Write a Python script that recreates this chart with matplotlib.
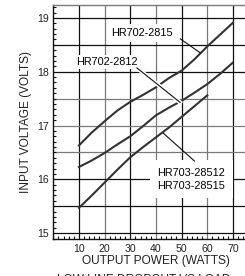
import matplotlib
matplotlib.use("Agg")
import matplotlib.pyplot as plt
import matplotlib.patheffects as pe
from matplotlib.ticker import MultipleLocator

plt.rcParams['font.family'] = ['Liberation Sans', 'DejaVu Sans']

# Data
power_702 = [10, 15, 20, 25, 30, 35, 40, 45, 50, 55, 60, 65, 70]
hr702_2815 = [16.63, 16.87, 17.08, 17.28, 17.44, 17.57, 17.71, 17.88, 18.02, 18.23, 18.47, 18.69, 18.91]
hr702_2812 = [16.23, 16.35, 16.49, 16.65, 16.80, 16.99, 17.19, 17.33, 17.46, 17.61, 17.77, 17.96, 18.17]
power_703 = [10, 15, 20, 25, 30, 35, 40, 45, 50, 55, 60]
hr703 = [15.47, 15.70, 15.94, 16.18, 16.41, 16.60, 16.78, 16.96, 17.16, 17.36, 17.56]

x_ticks = [10, 20, 30, 40, 50, 60, 70]
y_ticks = [15, 16, 17, 18, 19]

fig = plt.figure(figsize=(2.45, 2.76), dpi=100)
ax = fig.add_axes([53.3/245, 1-238.5/276, (258.6-53.3)/245, (238.5-5)/276])
ax.set_xlim(0, 80)
ax.set_ylim(14.9, 19.24)

# grid
dark = '#111111'
gray = '#7a7a7a'
for xv in [10, 20, 30, 40, 50, 60, 70]:
    c = dark if xv in (10, 30, 50, 70) else gray
    ax.axvline(xv, color=c, lw=0.9, zorder=1)
for yv in [15, 15.5, 16, 16.5, 17, 17.5, 18, 18.5, 19]:
    c = gray if yv in (16.5, 17, 17.5) else dark
    ax.axhline(yv, color=c, lw=0.9, zorder=1)

lc = '#333333'
ax.plot(power_702, hr702_2815, color=lc, lw=1.5, zorder=3, solid_joinstyle='round')
ax.plot(power_702, hr702_2812, color=lc, lw=1.5, zorder=3, solid_joinstyle='round')
ax.plot(power_703, hr703, color=lc, lw=1.5, zorder=3, solid_joinstyle='round')

fs_lab = 7.8
ax.text(34.6, 18.72, 'HR702-2815', fontsize=fs_lab, ha='center', va='center',
        bbox=dict(facecolor='white', edgecolor='none', boxstyle='square,pad=0.35'), zorder=2)
ax.text(21.0, 18.18, 'HR702-2812', fontsize=fs_lab, ha='center', va='center',
        bbox=dict(facecolor='white', edgecolor='none', boxstyle='square,pad=0.2'), zorder=2)
ax.text(53.7, 16.0, 'HR703-28512\nHR703-28515', fontsize=fs_lab, ha='center', va='center',
        linespacing=1.35,
        bbox=dict(facecolor='white', edgecolor='none', boxstyle='square,pad=0.7'), zorder=2)

halo = [pe.Stroke(linewidth=3, foreground='white'), pe.Normal()]
ax.plot([49.5, 57.3], [18.61, 18.35], color=dark, lw=0.8, zorder=4)
ax.plot([32.6, 49.4], [18.07, 17.43], color=dark, lw=0.8, zorder=4, path_effects=halo)
ax.plot([42.8, 55.0], [16.86, 16.34], color=dark, lw=0.8, zorder=4)

ax.set_xticks(x_ticks)
ax.set_yticks(y_ticks)
ax.xaxis.set_minor_locator(MultipleLocator(2))
ax.yaxis.set_minor_locator(MultipleLocator(0.1))
ax.tick_params(axis='both', which='major', length=0, labelsize=7.6, colors='#222222')
ax.tick_params(axis='x', which='major', pad=4)
ax.tick_params(axis='y', which='major', pad=3)
ax.tick_params(axis='both', which='minor', direction='in', length=2.2, width=0.8, color=dark)

for s in ['left', 'bottom']:
    ax.spines[s].set_color(dark)
    ax.spines[s].set_linewidth(1.0)
ax.spines['top'].set_color(gray)
ax.spines['top'].set_linewidth(1.0)
ax.spines['right'].set_visible(False)

ax.set_xlabel('OUTPUT POWER (WATTS)', fontsize=8.6, labelpad=1, color='#222222')
ax.set_ylabel('INPUT VOLTAGE (VOLTS)', fontsize=8.6, labelpad=4, color='#222222')

fig.text(57/245, 1-274/276, 'LOW LINE DROPOUT VS LOAD', fontsize=8.6, ha='left', va='top',
         color='#222222')

fig.savefig('out.png', dpi=100)
